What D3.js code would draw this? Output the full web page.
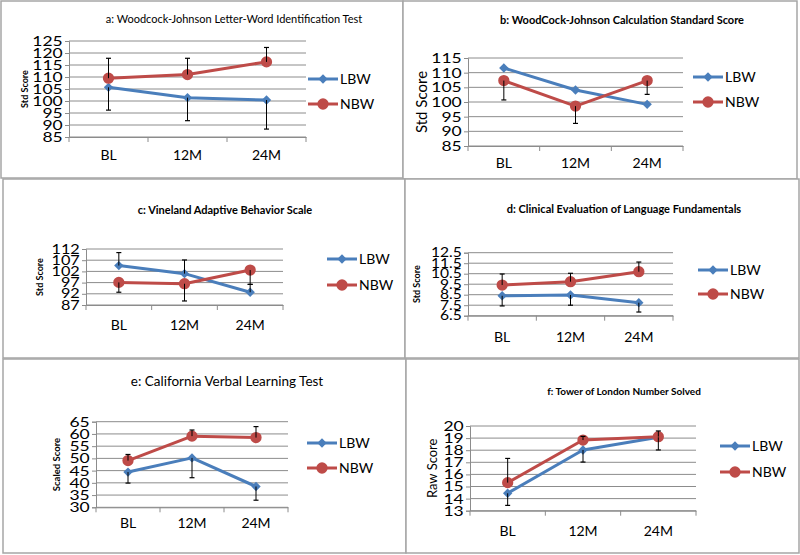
<!DOCTYPE html>
<html>
<head>
<meta charset="utf-8">
<script src="https://cdn.jsdelivr.net/npm/d3@7"></script>
<style>
  body { margin: 0; background: #fff; }
  text { font-family: Lato, "Open Sans", sans-serif; fill: #000; }
</style>
</head>
<body>
<div id="chart"></div>
<script>
// ---- data ----
const categories = ["BL", "12M", "24M"];
const seriesNames = ["LBW", "NBW"];

const titles = [
  "a: Woodcock-Johnson Letter-Word Identification  Test",
  "b: WoodCock-Johnson Calculation Standard Score",
  "c: Vineland Adaptive Behavior Scale",
  "d: Clinical Evaluation of Language Fundamentals",
  "e: California Verbal Learning Test",
  "f: Tower of London Number Solved"
];
const yTitles = ["Std Score", "Std Score", "Std Score", "Std Score", "Scaled Score", "Raw Score"];

const ticksA = [85, 90, 95, 100, 105, 110, 115, 120, 125];
const ticksB = [85, 90, 95, 100, 105, 110, 115];
const ticksC = [87, 92, 97, 102, 107, 112];
const ticksD = [6.5, 7.5, 8.5, 9.5, 10.5, 11.5, 12.5];
const ticksE = [30, 35, 40, 45, 50, 55, 60, 65];
const ticksF = [13, 14, 15, 16, 17, 18, 19, 20];

const lbwA = [105.7, 101.4, 100.4];
const nbwA = [109.5, 111.0, 116.3];
const lbwErrA = [9.5, 9.6, 12.1];
const nbwErrA = [8.3, 6.8, 6.0];

const lbwB = [111.6, 104.1, 99.2];
const nbwB = [107.3, 98.6, 107.3];
const lbwErrB = [0, 0, 0];
const nbwErrB = [6.6, 5.9, 4.7];

const lbwC = [104.6, 101.0, 92.7];
const nbwC = [97.1, 96.5, 102.6];
const lbwErrC = [5.8, 6.1, 3.5];
const nbwErrC = [4.4, 7.7, 6.4];

const lbwD = [8.4, 8.47, 7.74];
const nbwD = [9.42, 9.74, 10.69];
const lbwErrD = [0.97, 0.97, 0.89];
const nbwErrD = [1.05, 0.8, 0.92];

const lbwE = [44.4, 50.2, 38.5];
const nbwE = [49.1, 59.1, 58.5];
const lbwErrE = [4.5, 8.1, 5.6];
const nbwErrE = [2.5, 2.5, 4.5];

const lbwF = [14.44, 18.02, 19.07];
const nbwF = [15.32, 18.84, 19.12];
const lbwErrF = [1.0, 1.0, 1.05];
const nbwErrF = [2.0, 0.3, 0.47];

// ---- layout ----
const width = 800;
const height = 555;
const blue = "#4a7ebb";
const red = "#be4b48";
const gridColor = "#8c8c8c";

// box: panel frame, plot: [left, top, right, bottom], err dirs: +1 up, -1 down
const panels = [
  { box: [1, 1, 403, 178], plot: [69, 41, 306, 137], ticks: ticksA, lbw: lbwA, nbw: nbwA, lbwErr: lbwErrA, nbwErr: nbwErrA, lbwDir: -1, nbwDir: 1,
    title: titles[0], titleX: 234, titleY: 19, titleSize: 11, titleWeight: "normal", tickSize: 14,
    yTitle: yTitles[0], yTitleX: 25, yTitleSize: 9, yTitleWeight: "bold", catY: 155, legX: 308, legY: [79, 104] },
  { box: [403, 1, 797, 179], plot: [468, 58, 683, 146], ticks: ticksB, lbw: lbwB, nbw: nbwB, lbwErr: lbwErrB, nbwErr: nbwErrB, lbwDir: 1, nbwDir: -1,
    title: titles[1], titleX: 622, titleY: 20, titleSize: 11, titleWeight: "bold", tickSize: 14,
    yTitle: yTitles[1], yTitleX: 422, yTitleSize: 15, yTitleWeight: "normal", catY: 163, legX: 693, legY: [77, 102] },
  { box: [3, 179, 405, 358], plot: [86, 249, 283, 305], ticks: ticksC, lbw: lbwC, nbw: nbwC, lbwErr: lbwErrC, nbwErr: nbwErrC, lbwDir: 1, nbwDir: -1,
    title: titles[2], titleX: 225, titleY: 210, titleSize: 11, titleWeight: "bold", tickSize: 13,
    yTitle: yTitles[2], yTitleX: 40, yTitleSize: 9, yTitleWeight: "bold", catY: 325, legX: 327, legY: [259, 285] },
  { box: [405, 179, 799, 358], plot: [468, 252.7, 673, 315.7], ticks: ticksD, lbw: lbwD, nbw: nbwD, lbwErr: lbwErrD, nbwErr: nbwErrD, lbwDir: -1, nbwDir: 1,
    title: titles[3], titleX: 624, titleY: 209, titleSize: 11, titleWeight: "bold", tickSize: 12.5,
    yTitle: yTitles[3], yTitleX: 417, yTitleSize: 9, yTitleWeight: "bold", catY: 337, legX: 698, legY: [270, 294] },
  { box: [3, 359, 406, 553], plot: [96, 421.7, 288, 507.3], ticks: ticksE, lbw: lbwE, nbw: nbwE, lbwErr: lbwErrE, nbwErr: nbwErrE, lbwDir: -1, nbwDir: 1,
    title: titles[4], titleX: 227, titleY: 381, titleSize: 13.5, titleWeight: "normal", tickSize: 14,
    yTitle: yTitles[4], yTitleX: 57, yTitleSize: 9.5, yTitleWeight: "bold", catY: 523, legX: 307, legY: [443, 468] },
  { box: [406, 359, 799, 553], plot: [470, 426, 696, 510.7], ticks: ticksF, lbw: lbwF, nbw: nbwF, lbwErr: lbwErrF, nbwErr: nbwErrF, lbwDir: -1, nbwDir: 1,
    title: titles[5], titleX: 624, titleY: 391, titleSize: 10, titleWeight: "bold", tickSize: 14,
    yTitle: yTitles[5], yTitleX: 432, yTitleSize: 13, yTitleWeight: "normal", catY: 531, legX: 720, legY: [446, 472] }
];

const svg = d3.select("#chart")
  .append("svg")
  .attr("width", width)
  .attr("height", height)
  .attr("viewBox", [0, 0, width, height]);

const diamond = d3.symbol().type(d3.symbolSquare).size(44);
const circle = d3.symbol().type(d3.symbolCircle).size(100);

function drawMarker(g, type, cx, cy, color) {
  if (type === "diamond") {
    g.append("path").attr("d", diamond())
      .attr("transform", `translate(${cx},${cy}) rotate(45)`)
      .attr("fill", color);
  } else {
    g.append("path").attr("d", circle())
      .attr("transform", `translate(${cx},${cy})`)
      .attr("fill", color);
  }
}

panels.forEach(p => {
  const g = svg.append("g");
  const [bx0, by0, bx1, by1] = p.box;
  const [left, top, right, bottom] = p.plot;

  // frame
  g.append("rect")
    .attr("x", bx0).attr("y", by0)
    .attr("width", bx1 - bx0).attr("height", by1 - by0)
    .attr("fill", "#fff")
    .attr("stroke", "#a6a6a6")
    .attr("stroke-width", 1.5);

  const x = d3.scaleBand().domain(categories).range([left, right]);
  const y = d3.scaleLinear().domain(d3.extent(p.ticks)).range([bottom, top]);

  // gridlines
  g.append("g").selectAll("line")
    .data(p.ticks)
    .join("line")
    .attr("x1", left).attr("x2", right)
    .attr("y1", d => y(d)).attr("y2", d => y(d))
    .attr("stroke", gridColor).attr("stroke-width", 1);

  // y axis
  const yAxis = g.append("g")
    .attr("transform", `translate(${left},0)`)
    .call(d3.axisLeft(y).tickValues(p.ticks).tickSize(4).tickPadding(1).tickFormat(d3.format("")));
  yAxis.select(".domain").attr("stroke", gridColor);
  yAxis.selectAll(".tick line").attr("stroke", gridColor);
  // the reference's tick digits are drawn wide
  yAxis.selectAll("text")
    .attr("font-size", p.tickSize)
    .attr("font-family", "Lato")
    .attr("transform", "scale(1.25,1)");

  // x axis (ticks between categories)
  const xAxis = g.append("g")
    .attr("transform", `translate(0,${bottom})`)
    .call(d3.axisBottom(x).tickSize(0).tickSizeOuter(0).tickFormat(""));
  xAxis.select(".domain").attr("stroke", gridColor);
  xAxis.selectAll(".tick text").remove();
  g.append("g").selectAll("line")
    .data(d3.range(categories.length + 1))
    .join("line")
    .attr("x1", i => left + i * x.step()).attr("x2", i => left + i * x.step())
    .attr("y1", bottom).attr("y2", bottom + 5)
    .attr("stroke", gridColor);
  g.append("g").selectAll("text")
    .data(categories)
    .join("text")
    .attr("x", d => x(d) + x.bandwidth() / 2)
    .attr("y", p.catY)
    .attr("dy", "0.35em")
    .attr("text-anchor", "middle")
    .attr("font-size", 14)
    .text(d => d);

  // titles
  g.append("text")
    .attr("x", p.titleX).attr("y", p.titleY).attr("dy", "0.35em")
    .attr("text-anchor", "middle")
    .attr("font-size", p.titleSize)
    .attr("font-weight", p.titleWeight)
    .text(p.title);
  g.append("text")
    .attr("transform", `translate(${p.yTitleX},${(top + bottom) / 2}) rotate(-90)`)
    .attr("dy", "0.35em")
    .attr("text-anchor", "middle")
    .attr("font-size", p.yTitleSize)
    .attr("font-weight", p.yTitleWeight)
    .text(p.yTitle);

  const cx = c => x(c) + x.bandwidth() / 2;
  const line = d3.line().x((d, i) => cx(categories[i])).y(d => y(d));

  const series = [
    { name: seriesNames[0], values: p.lbw, err: p.lbwErr, dir: p.lbwDir, color: blue, marker: "diamond" },
    { name: seriesNames[1], values: p.nbw, err: p.nbwErr, dir: p.nbwDir, color: red, marker: "circle" }
  ];

  series.forEach(s => {
    g.append("path")
      .datum(s.values)
      .attr("d", line)
      .attr("fill", "none")
      .attr("stroke", s.color)
      .attr("stroke-width", 3)
      .attr("stroke-linejoin", "round");
    s.values.forEach((v, i) => drawMarker(g, s.marker, cx(categories[i]), y(v), s.color));
  });

  // error bars (on top)
  series.forEach(s => {
    s.values.forEach((v, i) => {
      if (!s.err[i]) return;
      const xc = cx(categories[i]);
      const yEnd = y(v + s.dir * s.err[i]);
      g.append("line")
        .attr("x1", xc).attr("x2", xc)
        .attr("y1", y(v)).attr("y2", yEnd)
        .attr("stroke", "#000").attr("stroke-width", 1);
      g.append("line")
        .attr("x1", xc - 2.5).attr("x2", xc + 2.5)
        .attr("y1", yEnd).attr("y2", yEnd)
        .attr("stroke", "#000").attr("stroke-width", 1.2);
    });
  });

  // legend
  series.forEach((s, k) => {
    const ly = p.legY[k];
    g.append("line")
      .attr("x1", p.legX).attr("x2", p.legX + 30)
      .attr("y1", ly).attr("y2", ly)
      .attr("stroke", s.color).attr("stroke-width", 3);
    drawMarker(g, s.marker, p.legX + 15, ly, s.color);
    g.append("text")
      .attr("x", p.legX + 32).attr("y", ly).attr("dy", "0.35em")
      .attr("font-size", 14)
      .text(s.name);
  });
});
</script>
</body>
</html>
